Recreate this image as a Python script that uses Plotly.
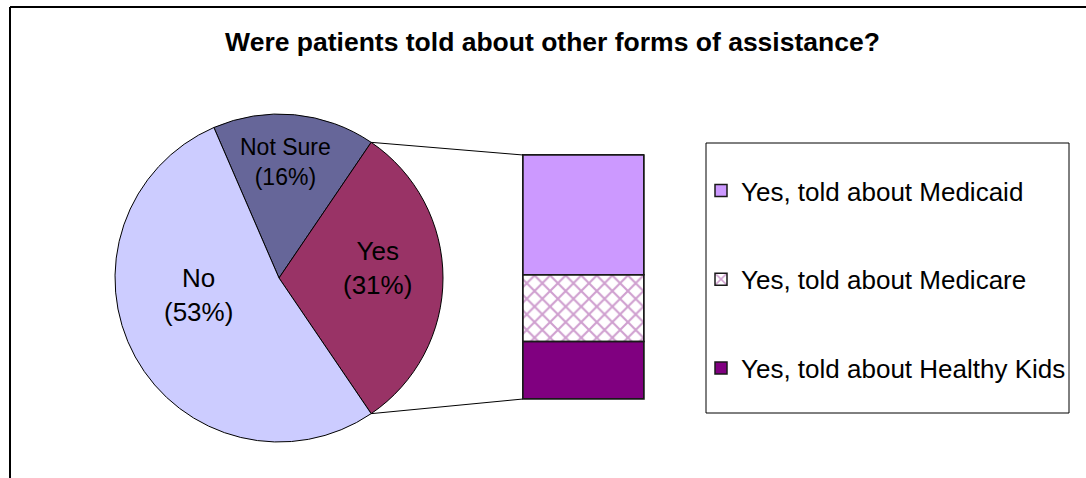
import math
import plotly.graph_objects as go

# ---------------- data ----------------
pie_labels = ["Not Sure", "Yes", "No"]
pie_values = [16, 31, 53]
pie_colors = ["#666699", "#993366", "#CCCCFF"]

bar_labels = ["Yes, told about Healthy Kids", "Yes, told about Medicare", "Yes, told about Medicaid"]
bar_values = [7.3, 8.5, 15.2]
bar_colors = ["#800080", "#FFFFFF", "#CC99FF"]
bar_patterns = ["", "x", ""]
bar_legend_rank = [3, 2, 1]

title_text = "Were patients told about other forms of assistance?"

# ---------------- layout geometry (style only) ----------------
W, H = 1086, 478
FONT = "Liberation Sans, Arial, sans-serif"
pie_cx, pie_cy, pie_r = 279, 278, 164
bar_x0, bar_x1, bar_y0, bar_y1 = 523, 644, 155, 399  # pixels (y from top)
PAD = 4  # px padding around the bar so its outline is not clipped
# label placement (pixel offsets from pie centre) and font sizes
label_offsets = {"Not Sure": (6, -116), "Yes": (98, -10), "No": (-81, 17)}
label_sizes = {"Not Sure": 23, "Yes": 26, "No": 26}


def px_x(x):
    return x / W


def px_y(y):
    return 1 - y / H


total = sum(pie_values)
yes_share = pie_values[1] / total * 360
ns_share = pie_values[0] / total * 360
rotation = 90 - yes_share / 2 - ns_share

fig = go.Figure()

fig.add_trace(go.Pie(
    labels=pie_labels,
    values=pie_values,
    sort=False,
    direction="clockwise",
    rotation=rotation,
    marker=dict(colors=pie_colors, line=dict(color="#000000", width=1)),
    textinfo="none",
    domain=dict(x=[px_x(pie_cx - pie_r), px_x(pie_cx + pie_r)],
                y=[px_y(pie_cy + pie_r), px_y(pie_cy - pie_r)]),
    showlegend=False,
    hoverinfo="label+percent",
))

for lab, val, col, pat, rank in zip(bar_labels, bar_values, bar_colors,
                                    bar_patterns, bar_legend_rank):
    marker = dict(color=col, line=dict(color="#1a1a1a", width=1.5))
    if pat:
        marker["pattern"] = dict(shape=pat, fgcolor="#A040A0", bgcolor="#FFFFFF",
                                 size=11, solidity=0.35)
    fig.add_trace(go.Bar(
        x=[0], y=[val], name=lab, width=1, marker=marker,
        legendgroup=lab, legendrank=rank, xaxis="x", yaxis="y",
    ))

bar_total = sum(bar_values)
bar_px_w = bar_x1 - bar_x0
bar_px_h = bar_y1 - bar_y0
xpad = PAD / bar_px_w
ypad = PAD / bar_px_h * bar_total

# connector lines from pie (Yes slice edges) to the bar
a1 = math.radians(90 - yes_share / 2)
a2 = math.radians(90 + yes_share / 2)
p1 = (pie_cx + pie_r * math.sin(a1), pie_cy - pie_r * math.cos(a1))
p2 = (pie_cx + pie_r * math.sin(a2), pie_cy - pie_r * math.cos(a2))

shapes = [
    dict(type="line", xref="paper", yref="paper",
         x0=px_x(p1[0]), y0=px_y(p1[1]), x1=px_x(bar_x0), y1=px_y(bar_y0),
         line=dict(color="#000000", width=1)),
    dict(type="line", xref="paper", yref="paper",
         x0=px_x(p2[0]), y0=px_y(p2[1]), x1=px_x(bar_x0), y1=px_y(bar_y1),
         line=dict(color="#000000", width=1)),
    # legend box
    dict(type="rect", xref="paper", yref="paper",
         x0=px_x(706), y0=px_y(413), x1=px_x(1069), y1=px_y(143),
         line=dict(color="#000000", width=1)),
    # chart frame (top and left edges)
    dict(type="line", xref="paper", yref="paper",
         x0=px_x(10), y0=px_y(7), x1=1, y1=px_y(7),
         line=dict(color="#000000", width=2)),
    dict(type="line", xref="paper", yref="paper",
         x0=px_x(10), y0=px_y(7), x1=px_x(10), y1=0,
         line=dict(color="#000000", width=2)),
]

# outlines of the stacked segments, from the data
cum = 0
for val in bar_values:
    shapes.append(dict(type="rect", xref="x", yref="y", x0=-0.5, x1=0.5,
                       y0=cum, y1=cum + val, layer="above",
                       line=dict(color="#1a1a1a", width=1.5)))
    cum += val

# pie labels
annotations = []
for lab, val in zip(pie_labels, pie_values):
    dx, dy = label_offsets[lab]
    annotations.append(dict(
        xref="paper", yref="paper", x=px_x(pie_cx + dx), y=px_y(pie_cy + dy),
        xanchor="center", yanchor="middle", showarrow=False,
        text=f"{lab}<br>({val}%)",
        font=dict(family=FONT, size=label_sizes[lab], color="#000000"),
    ))

fig.update_layout(
    width=W, height=H,
    margin=dict(l=0, r=0, t=0, b=0),
    paper_bgcolor="#FFFFFF",
    plot_bgcolor="rgba(0,0,0,0)",
    barmode="stack",
    bargap=0,
    font=dict(family=FONT, color="#000000"),
    xaxis=dict(domain=[px_x(bar_x0 - PAD), px_x(bar_x1 + PAD)],
               range=[-0.5 - xpad, 0.5 + xpad],
               visible=False, fixedrange=True),
    yaxis=dict(domain=[px_y(bar_y1 + PAD), px_y(bar_y0 - PAD)],
               range=[-ypad, bar_total + ypad],
               visible=False, fixedrange=True),
    title=dict(text="<b>" + title_text + "</b>", x=552.5 / W, xanchor="center",
               y=px_y(42), yanchor="middle",
               font=dict(family=FONT, size=26.5, color="#000000")),
    legend=dict(x=px_x(701), y=px_y(167), xanchor="left", yanchor="top",
                traceorder="grouped", tracegroupgap=52,
                font=dict(family=FONT, size=26, color="#000000"),
                bgcolor="rgba(0,0,0,0)", borderwidth=0),
    shapes=shapes,
    annotations=annotations,
)

fig.write_html("out.html")
